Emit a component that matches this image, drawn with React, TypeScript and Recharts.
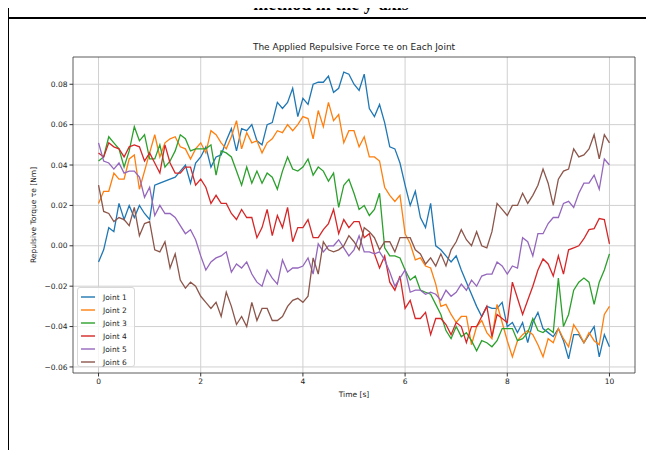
import React from 'react';
import { LineChart, Line, XAxis, YAxis, CartesianGrid, ReferenceArea } from 'recharts';

const TIME: number[] = Array.from({ length: 101 }, (_, i) => i / 10);

const JOINT_1 = [
  -0.008, -0.002, 0.009, 0.007, 0.021, 0.013, 0.020, 0.014, 0.020, 0.016,
  0.013, 0.030, 0.031, 0.032, 0.033, 0.034, 0.037, 0.040, 0.031, 0.041,
  0.044, 0.049, 0.039, 0.044, 0.045, 0.052, 0.058, 0.047, 0.058, 0.057,
  0.060, 0.052, 0.050, 0.060, 0.061, 0.071, 0.068, 0.071, 0.078, 0.064,
  0.073, 0.070, 0.080, 0.081, 0.081, 0.084, 0.076, 0.078, 0.086, 0.085,
  0.080, 0.077, 0.085, 0.068, 0.064, 0.070, 0.061, 0.049, 0.048, 0.041,
  0.030, 0.020, 0.027, 0.014, 0.009, 0.021, 0.000, -0.002, -0.005, -0.008,
  -0.005, -0.012, -0.018, -0.024, -0.030, -0.035, -0.030, -0.031, -0.031, -0.028,
  -0.040, -0.038, -0.043, -0.038, -0.048, -0.038, -0.033, -0.041, -0.043, -0.045,
  -0.041, -0.047, -0.056, -0.044, -0.044, -0.048, -0.044, -0.040, -0.055, -0.044,
  -0.050,
];

const JOINT_2 = [
  0.021, 0.027, 0.027, 0.036, 0.033, 0.033, 0.043, 0.045, 0.028, 0.037,
  0.046, 0.055, 0.044, 0.051, 0.053, 0.054, 0.049, 0.048, 0.043, 0.048,
  0.051, 0.046, 0.057, 0.055, 0.051, 0.048, 0.054, 0.062, 0.048, 0.056,
  0.051, 0.052, 0.046, 0.051, 0.053, 0.057, 0.056, 0.060, 0.057, 0.060,
  0.064, 0.063, 0.053, 0.067, 0.059, 0.071, 0.062, 0.065, 0.051, 0.057,
  0.057, 0.049, 0.054, 0.044, 0.044, 0.042, 0.029, 0.025, 0.022, 0.025,
  0.006, 0.001, -0.007, -0.006, -0.010, -0.011, -0.019, -0.030, -0.029, -0.034,
  -0.038, -0.035, -0.035, -0.049, -0.040, -0.037, -0.043, -0.046, -0.029, -0.038,
  -0.047, -0.055, -0.047, -0.044, -0.042, -0.044, -0.049, -0.055, -0.046, -0.048,
  -0.041, -0.046, -0.050, -0.039, -0.043, -0.048, -0.043, -0.047, -0.049, -0.034,
  -0.030,
];

const JOINT_3 = [
  0.042, 0.044, 0.054, 0.051, 0.048, 0.039, 0.047, 0.059, 0.052, 0.055,
  0.043, 0.043, 0.050, 0.039, 0.042, 0.047, 0.055, 0.053, 0.047, 0.048,
  0.048, 0.048, 0.050, 0.035, 0.047, 0.046, 0.044, 0.037, 0.030, 0.039,
  0.031, 0.037, 0.031, 0.036, 0.034, 0.028, 0.037, 0.044, 0.038, 0.037,
  0.039, 0.043, 0.035, 0.039, 0.037, 0.032, 0.036, 0.019, 0.030, 0.033,
  0.026, 0.018, 0.020, 0.015, 0.018, 0.026, -0.001, -0.005, -0.005, -0.006,
  -0.012, -0.017, -0.015, -0.022, -0.023, -0.024, -0.029, -0.034, -0.042, -0.046,
  -0.040, -0.045, -0.043, -0.047, -0.052, -0.047, -0.048, -0.050, -0.047, -0.041,
  -0.041, -0.041, -0.047, -0.046, -0.043, -0.036, -0.042, -0.043, -0.041, -0.043,
  -0.016, -0.040, -0.034, -0.022, -0.018, -0.016, -0.018, -0.029, -0.018, -0.012,
  -0.004,
];

const JOINT_4 = [
  0.046, 0.044, 0.051, 0.049, 0.048, 0.044, 0.049, 0.050, 0.049, 0.042,
  0.046, 0.041, 0.036, 0.050, 0.041, 0.036, 0.036, 0.039, 0.039, 0.030,
  0.033, 0.029, 0.021, 0.025, 0.021, 0.021, 0.016, 0.013, 0.018, 0.014,
  0.014, 0.004, 0.009, 0.018, 0.005, 0.015, 0.009, 0.019, 0.002, 0.009,
  0.009, 0.013, 0.004, 0.004, 0.008, 0.011, 0.018, 0.006, 0.013, 0.009,
  0.012, 0.012, 0.004, 0.006, -0.004, -0.011, -0.005, -0.018, -0.022, -0.015,
  -0.031, -0.027, -0.036, -0.036, -0.033, -0.044, -0.036, -0.036, -0.039, -0.044,
  -0.038, -0.040, -0.048, -0.040, -0.040, -0.035, -0.030, -0.045, -0.034, -0.036,
  -0.038, -0.018, -0.026, -0.034, -0.027, -0.020, -0.012, -0.0065, -0.009, -0.015,
  -0.005, -0.014, -0.002, -0.001, 0.000, 0.0035, 0.008, 0.0085, 0.0135, 0.013,
  0.001,
];

const JOINT_5 = [
  0.051, 0.042, 0.041, 0.038, 0.041, 0.036, 0.037, 0.037, 0.034, 0.024,
  0.029, 0.015, 0.020, 0.016, 0.016, 0.014, 0.010, 0.006, 0.008, 0.003,
  -0.005, -0.012, -0.008, -0.006, -0.005, -0.003, -0.013, -0.009, -0.011, -0.008,
  -0.014, -0.018, -0.020, -0.012, -0.016, -0.019, -0.007, -0.013, -0.011, -0.011,
  -0.010, -0.006, -0.014, 0.001, -0.003, 0.000, 0.000, 0.003, -0.001, -0.005,
  -0.002, 0.005, -0.003, -0.003, -0.004, -0.003, -0.007, -0.013, -0.020, -0.016,
  -0.012, -0.023, -0.022, -0.022, -0.024, -0.023, -0.024, -0.027, -0.022, -0.025,
  -0.023, -0.019, -0.022, -0.017, -0.020, -0.015, -0.014, -0.014, -0.008, -0.010,
  -0.014, -0.010, -0.011, 0.004, 0.002, -0.005, 0.006, 0.006, 0.011, 0.014,
  0.014, 0.021, 0.022, 0.019, 0.026, 0.031, 0.031, 0.035, 0.028, 0.043,
  0.040,
];

const JOINT_6 = [
  0.030, 0.017, 0.016, 0.012, 0.014, 0.013, 0.010, 0.019, 0.005, 0.011,
  0.012, -0.002, -0.003, 0.002, -0.011, -0.004, -0.017, -0.021, -0.018, -0.020,
  -0.025, -0.028, -0.031, -0.028, -0.035, -0.023, -0.030, -0.039, -0.035, -0.040,
  -0.028, -0.037, -0.031, -0.031, -0.037, -0.037, -0.035, -0.030, -0.027, -0.026,
  -0.028, -0.025, -0.006, -0.014, 0.002, -0.002, -0.003, -0.002, 0.000, 0.005,
  0.002, -0.002, 0.009, 0.007, 0.004, -0.002, 0.002, 0.002, -0.003, 0.004,
  0.004, 0.004, -0.002, -0.004, -0.009, -0.006, -0.010, -0.004, -0.010, -0.002,
  0.002, 0.008, 0.003, 0.000, 0.007, 0.000, -0.001, 0.007, 0.021, 0.018,
  0.015, 0.020, 0.020, 0.026, 0.021, 0.025, 0.030, 0.038, 0.031, 0.020,
  0.033, 0.037, 0.038, 0.048, 0.044, 0.045, 0.048, 0.055, 0.043, 0.055,
  0.051,
];

const X_TICKS = [0, 2, 4, 6, 8, 10];
const Y_TICKS = [-0.06, -0.04, -0.02, 0, 0.02, 0.04, 0.06, 0.08];

const SERIES = [
  { key: 'j1', name: 'Joint 1', color: '#1f77b4', values: JOINT_1 },
  { key: 'j2', name: 'Joint 2', color: '#ff7f0e', values: JOINT_2 },
  { key: 'j3', name: 'Joint 3', color: '#2ca02c', values: JOINT_3 },
  { key: 'j4', name: 'Joint 4', color: '#d62728', values: JOINT_4 },
  { key: 'j5', name: 'Joint 5', color: '#9467bd', values: JOINT_5 },
  { key: 'j6', name: 'Joint 6', color: '#8c564b', values: JOINT_6 },
];

const data = TIME.map((t, i) => {
  const row: Record<string, number> = { t };
  SERIES.forEach((s) => {
    row[s.key] = s.values[i];
  });
  return row;
});

const X_DOMAIN: [number, number] = [-0.5, 10.5];
const Y_DOMAIN: [number, number] = [-0.063, 0.0935];

const fmtY = (v: number) => {
  const s = Math.abs(v).toFixed(2);
  return v < -1e-9 ? '\u2212' + s : s;
};

const FONT = '"DejaVu Sans", sans-serif';
const tickStyle = { fontSize: 7.5, fill: '#222', fontFamily: FONT };

export default function App() {
  return (
    <div style={{ position: 'relative', width: 654, height: 450, margin: '-8px 0 0 -8px', overflow: 'hidden', background: '#fff' }}>
      <div
        style={{
          position: 'absolute',
          top: -6,
          left: 0,
          width: 662,
          textAlign: 'center',
          fontFamily: '"Liberation Serif", serif',
          fontWeight: 'bold',
          fontSize: 18,
          lineHeight: '20px',
          color: '#000',
          whiteSpace: 'nowrap',
        }}
      >
        method in the y-axis
      </div>
      <div style={{ position: 'absolute', top: 17, left: 0, width: 654, height: 2, background: '#000' }} />
      <div style={{ position: 'absolute', top: 0, left: 7, width: 2, height: 450, background: '#000' }} />

      <div style={{ position: 'absolute', left: 0, top: 0 }}>
        <LineChart width={654} height={450} data={data} margin={{ top: 57, right: 19, bottom: 0, left: 0 }}>
          <CartesianGrid stroke="#d0d0d0" strokeWidth={1} verticalValues={X_TICKS} horizontalValues={Y_TICKS} />
          <XAxis
            dataKey="t"
            type="number"
            domain={X_DOMAIN}
            ticks={X_TICKS}
            allowDataOverflow
            height={77}
            tick={tickStyle}
            tickSize={3.5}
            tickMargin={2}
            axisLine={false}
            tickLine={{ stroke: '#333' }}
          />
          <YAxis
            type="number"
            domain={Y_DOMAIN}
            ticks={Y_TICKS}
            allowDataOverflow
            width={73}
            tick={tickStyle}
            tickFormatter={fmtY}
            tickSize={3.5}
            tickMargin={2}
            axisLine={false}
            tickLine={{ stroke: '#333' }}
          />
          {SERIES.map((s) => (
            <Line
              key={s.key}
              type="linear"
              dataKey={s.key}
              name={s.name}
              stroke={s.color}
              strokeWidth={1.3}
              dot={false}
              activeDot={false}
              isAnimationActive={false}
            />
          ))}
          <ReferenceArea
            x1={X_DOMAIN[0]}
            x2={X_DOMAIN[1]}
            y1={Y_DOMAIN[0]}
            y2={Y_DOMAIN[1]}
            fill="none"
            fillOpacity={0}
            stroke="#333"
            strokeWidth={0.8}
            ifOverflow="visible"
          />
        </LineChart>
      </div>

      <div
        style={{
          position: 'absolute',
          top: 42,
          left: 73,
          width: 562,
          textAlign: 'center',
          fontFamily: FONT,
          fontSize: 9,
          color: '#222',
          whiteSpace: 'nowrap',
        }}
      >
        The Applied Repulsive Force τe on Each Joint
      </div>
      <div
        style={{
          position: 'absolute',
          top: 390,
          left: 73,
          width: 562,
          textAlign: 'center',
          fontFamily: FONT,
          fontSize: 7.5,
          color: '#222',
        }}
      >
        Time [s]
      </div>
      <div
        style={{
          position: 'absolute',
          left: 33,
          top: 215,
          transform: 'translate(-50%, -50%) rotate(-90deg)',
          fontFamily: FONT,
          fontSize: 7.5,
          color: '#222',
          whiteSpace: 'nowrap',
        }}
      >
        Repulsive Torque τe [Nm]
      </div>

      <div
        style={{
          position: 'absolute',
          left: 77,
          top: 287,
          width: 58,
          height: 80,
          border: '1px solid #d8d8d8',
          borderRadius: 3,
          background: 'rgba(255,255,255,0.8)',
          boxSizing: 'border-box',
        }}
      >
        {SERIES.map((s, i) => (
          <div key={s.key} style={{ position: 'absolute', left: 3, top: 3 + i * 13, height: 12, display: 'flex', alignItems: 'center' }}>
            <svg width={14} height={12} style={{ display: 'block' }}>
              <line x1={0} y1={6} x2={14} y2={6} stroke={s.color} strokeWidth={1.4} />
            </svg>
            <span style={{ marginLeft: 8, fontFamily: FONT, fontSize: 7.5, color: '#222', whiteSpace: 'nowrap' }}>{s.name}</span>
          </div>
        ))}
      </div>
    </div>
  );
}
